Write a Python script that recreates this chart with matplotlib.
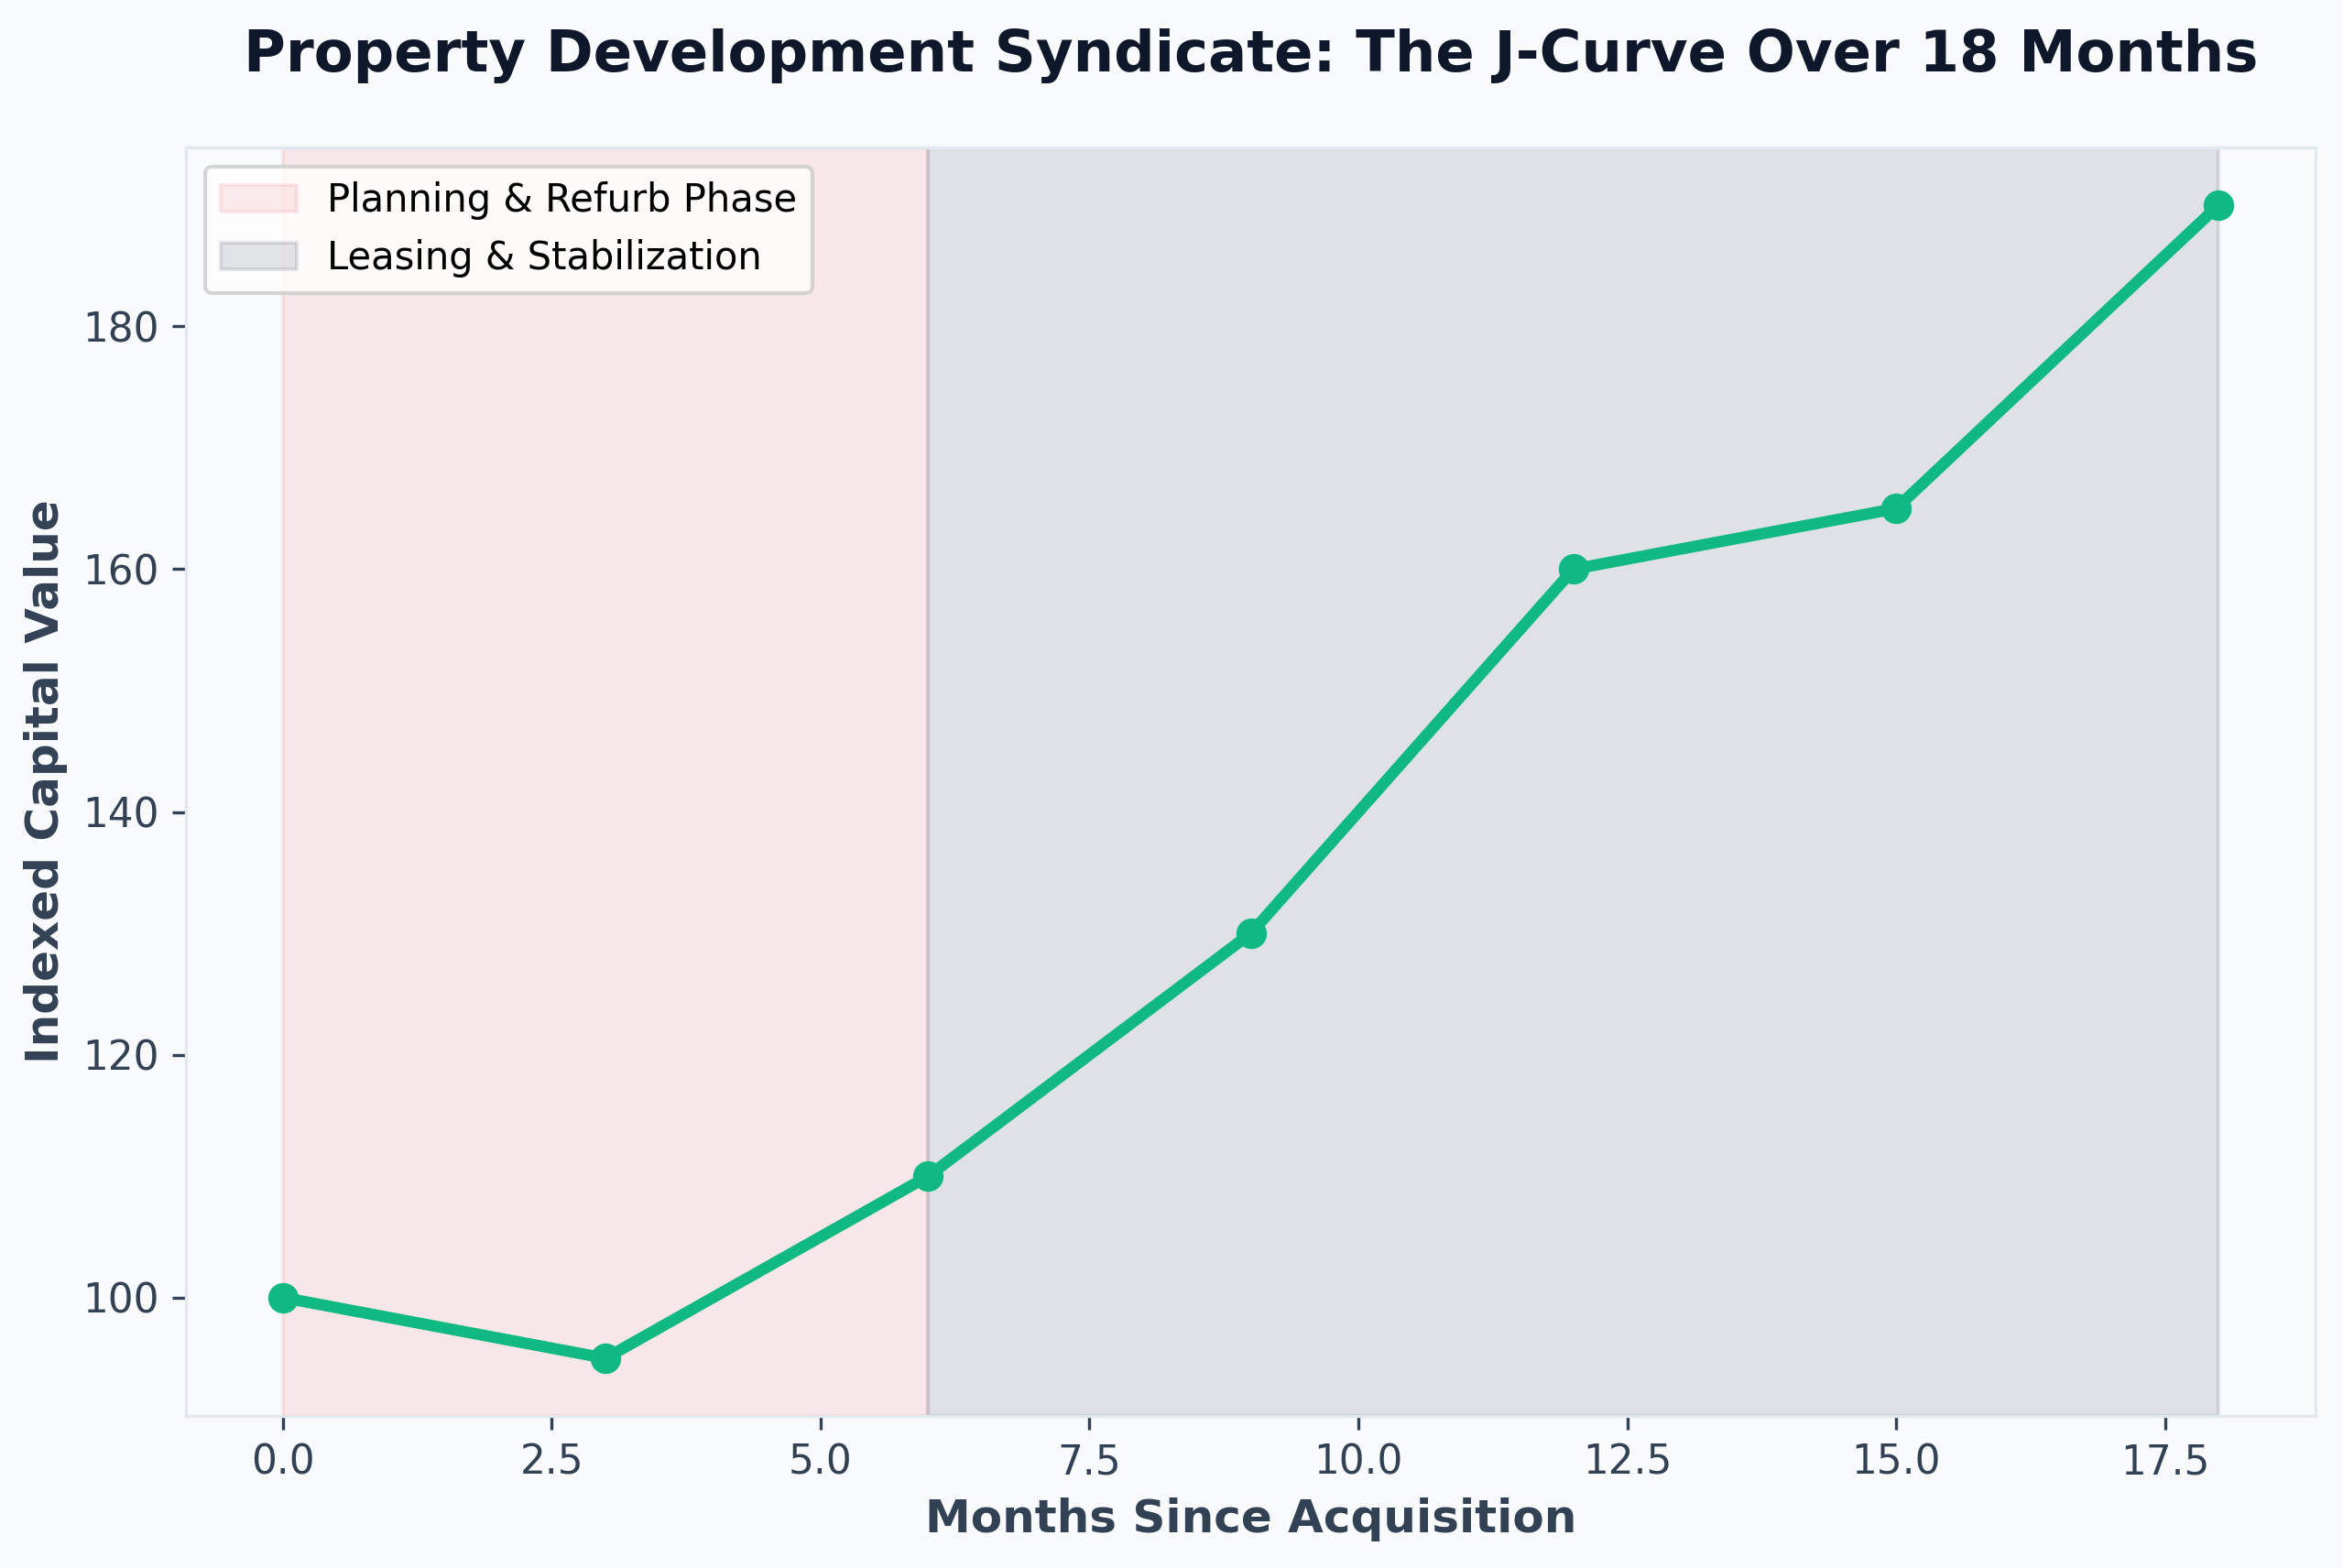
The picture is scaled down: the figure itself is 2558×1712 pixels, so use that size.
import matplotlib
matplotlib.use("Agg")
import matplotlib.pyplot as plt

# data
months = [0, 3, 6, 9, 12, 15, 18]
capital_value = [100, 95, 110, 130, 160, 165, 190]
phase_labels = ["Planning & Refurb Phase", "Leasing & Stabilization"]
phase_bounds = [(0, 6), (6, 18)]

bg = "#f8fafc"
text_dark = "#0f172a"
text_mid = "#334155"

fig = plt.figure(figsize=(2558 / 300, 1712 / 300), dpi=300, facecolor=bg)
ax = fig.add_axes([0.0794, 0.097, 0.9089, 0.809])
ax.set_facecolor(bg)

# shaded phases
ax.axvspan(*phase_bounds[0], color="#ef4444", alpha=0.1, label=phase_labels[0])
ax.axvspan(*phase_bounds[1], color="#6b7280", alpha=0.18, label=phase_labels[1])

ax.plot(months, capital_value, color="#10b981", linewidth=3, marker="o", markersize=7)

ax.set_title("Property Development Syndicate: The J-Curve Over 18 Months",
             fontsize=15, fontweight="bold", color=text_dark, pad=20)
ax.set_xlabel("Months Since Acquisition", fontsize=12, fontweight="bold", color=text_mid)
ax.set_ylabel("Indexed Capital Value", fontsize=12, fontweight="bold", color=text_mid)

ax.tick_params(colors=text_mid, labelsize=10.5)
for s in ax.spines.values():
    s.set_color("#e2e8f0")

ax.legend(loc="upper left", fontsize=10)

fig.savefig("out.png", dpi=300, facecolor=bg)
